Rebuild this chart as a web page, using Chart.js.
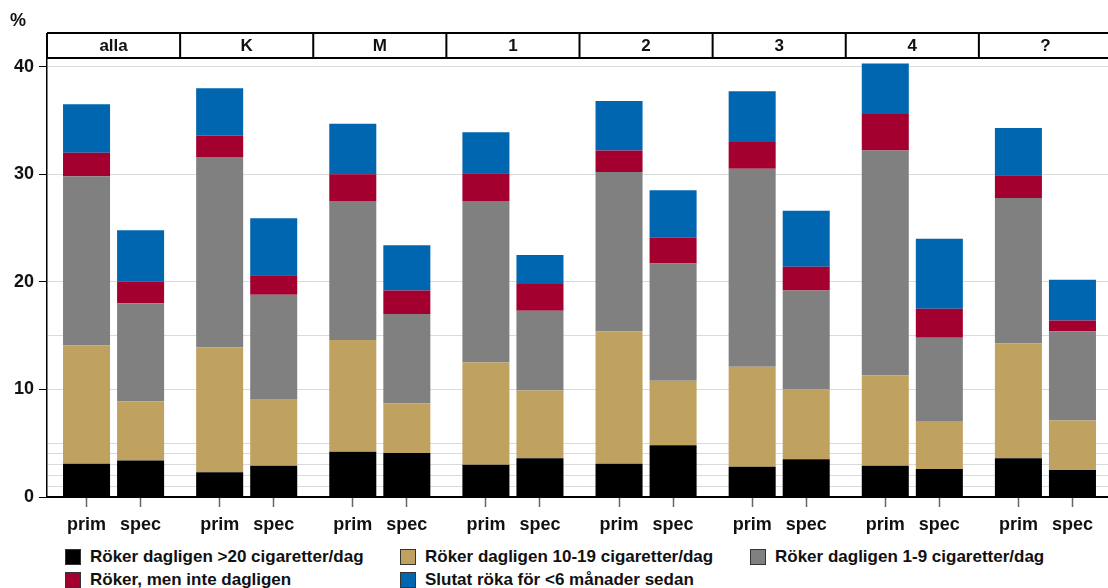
<!DOCTYPE html>
<html>
<head>
<meta charset="utf-8">
<script src="https://cdn.jsdelivr.net/npm/chart.js@4.4.1/dist/chart.umd.min.js"></script>
<style>
html, body { margin: 0; padding: 0; background: #fff; overflow: hidden; }
#wrap { position: relative; width: 1108px; height: 588px; overflow: hidden; }
#chart { position: absolute; left: 0; top: 0; }
#legend {
  position: absolute; left: 65px; top: 546px;
  display: grid; grid-template-columns: 335px 350px 340px; row-gap: 1px;
  font: bold 17px "Liberation Sans", Arial, sans-serif; color: #111;
}
#legend .item { display: flex; align-items: center; height: 22px; white-space: nowrap; }
#legend .box { width: 14px; height: 14px; border: 1px solid #333; margin-right: 9px; }
</style>
</head>
<body>
<div id="wrap">
  <canvas id="chart" width="1112" height="545"></canvas>
  <div id="legend"></div>
</div>
<script>
// groups in the header strip, two bars (prim / spec) in each
var groups = ["alla", "K", "M", "1", "2", "3", "4", "?"];
var kinds = ["prim", "spec"];

// values per bar, in order: alla prim, alla spec, K prim, K spec, ...
var over20 = [3.1, 3.4, 2.3, 2.9, 4.2, 4.1, 3.0, 3.6, 3.1, 4.8, 2.8, 3.5, 2.9, 2.6, 3.6, 2.5];
var daily10to19 = [11.0, 5.5, 11.6, 6.2, 10.4, 4.6, 9.5, 6.3, 12.3, 6.0, 9.3, 6.5, 8.4, 4.4, 10.7, 4.6];
var daily1to9 = [15.7, 9.1, 17.7, 9.7, 12.9, 8.3, 15.0, 7.4, 14.8, 10.9, 18.4, 9.2, 20.9, 7.8, 13.5, 8.3];
var notDaily = [2.2, 2.0, 2.0, 1.8, 2.5, 2.2, 2.6, 2.5, 2.0, 2.4, 2.5, 2.2, 3.4, 2.7, 2.1, 1.0];
var quitRecently = [4.5, 4.8, 4.4, 5.3, 4.7, 4.2, 3.8, 2.7, 4.6, 4.4, 4.7, 5.2, 4.7, 6.5, 4.4, 3.8];

var seriesNames = [
  "Röker dagligen >20 cigaretter/dag",
  "Röker dagligen 10-19 cigaretter/dag",
  "Röker dagligen 1-9 cigaretter/dag",
  "Röker, men inte dagligen",
  "Slutat röka för <6 månader sedan"
];
var seriesColors = ["#000000", "#bfa160", "#808080", "#a3002f", "#0066b0"];
var seriesValues = [over20, daily10to19, daily1to9, notDaily, quitRecently];

// y ticks: labelled every 10, plus the extra reference lines
var yLines = [0, 1, 2, 3, 4, 5, 10, 15, 20, 30, 40];

var kindOffset = [-0.203, 0.203];
var barX = [];
groups.forEach(function (g, i) {
  kinds.forEach(function (k, j) { barX.push(i + kindOffset[j]); });
});

var font = '"Liberation Sans", Arial, sans-serif';
Chart.defaults.font.family = font;

var datasets = seriesValues.map(function (vals, s) {
  return {
    label: seriesNames[s],
    backgroundColor: seriesColors[s],
    borderWidth: 0,
    data: vals.map(function (v, i) { return { x: barX[i], y: v }; }),
    barPercentage: 0.87,
    categoryPercentage: 1.0
  };
});

// header strip with the group names, and the % sign
var headerPlugin = {
  id: "header",
  afterDraw: function (chart) {
    var ctx = chart.ctx, area = chart.chartArea, x = chart.scales.x;
    var top = 33, bottom = area.top;
    ctx.save();
    ctx.strokeStyle = "#000";
    ctx.lineWidth = 2;
    ctx.beginPath();
    ctx.moveTo(area.left, top); ctx.lineTo(area.right, top);
    ctx.moveTo(area.left, bottom); ctx.lineTo(area.right, bottom);
    for (var i = 0; i <= groups.length; i++) {
      var px = x.getPixelForValue(i - 0.5);
      ctx.moveTo(px, top); ctx.lineTo(px, bottom);
    }
    ctx.stroke();
    ctx.fillStyle = "#111";
    ctx.font = "bold 17px " + font;
    ctx.textAlign = "center";
    ctx.textBaseline = "middle";
    groups.forEach(function (g, i) {
      ctx.fillText(g, x.getPixelForValue(i), (top + bottom) / 2 + 1);
    });
    ctx.font = "bold 18px " + font;
    ctx.fillText("%", 18, 21);
    ctx.restore();
  }
};

new Chart(document.getElementById("chart"), {
  type: "bar",
  data: { datasets: datasets },
  plugins: [headerPlugin],
  options: {
    responsive: false,
    animation: false,
    layout: { padding: { top: 58, left: 0, right: 0, bottom: 0 } },
    plugins: { legend: { display: false }, tooltip: { enabled: false } },
    scales: {
      x: {
        type: "linear",
        stacked: true,
        offset: false,
        min: -0.5,
        max: 7.5,
        afterBuildTicks: function (s) { s.ticks = barX.map(function (v) { return { value: v }; }); },
        afterFit: function (s) { s.height = 48; },
        ticks: {
          autoSkip: false,
          maxRotation: 0,
          padding: 7,
          color: "#111",
          font: { size: 18, weight: "bold" },
          callback: function (v, i) { return kinds[i % 2]; }
        },
        grid: { drawOnChartArea: false, offset: false, tickLength: 10, tickColor: "#666", tickWidth: 1.5 },
        border: { color: "#000", width: 2 }
      },
      y: {
        stacked: true,
        min: 0,
        max: 40.8,
        afterBuildTicks: function (s) { s.ticks = yLines.map(function (v) { return { value: v }; }); },
        afterFit: function (s) { s.width = 47; },
        ticks: {
          padding: 5,
          color: "#111",
          font: { size: 18, weight: "bold" },
          callback: function (v) { return v % 10 === 0 ? v : ""; }
        },
        grid: {
          tickLength: 8,
          color: function (c) { return c.tick && c.tick.value === 0 ? "rgba(0,0,0,0)" : "#dadada"; },
          tickColor: function (c) { return c.tick && c.tick.value % 10 === 0 ? "#000" : "rgba(0,0,0,0)"; }
        },
        border: { color: "#000", width: 1.5 }
      }
    }
  }
});

// legend in three columns, two rows
var legend = document.getElementById("legend");
seriesNames.forEach(function (name, s) {
  var item = document.createElement("div");
  item.className = "item";
  var box = document.createElement("span");
  box.className = "box";
  box.style.background = seriesColors[s];
  item.appendChild(box);
  item.appendChild(document.createTextNode(name));
  legend.appendChild(item);
});
</script>
</body>
</html>
